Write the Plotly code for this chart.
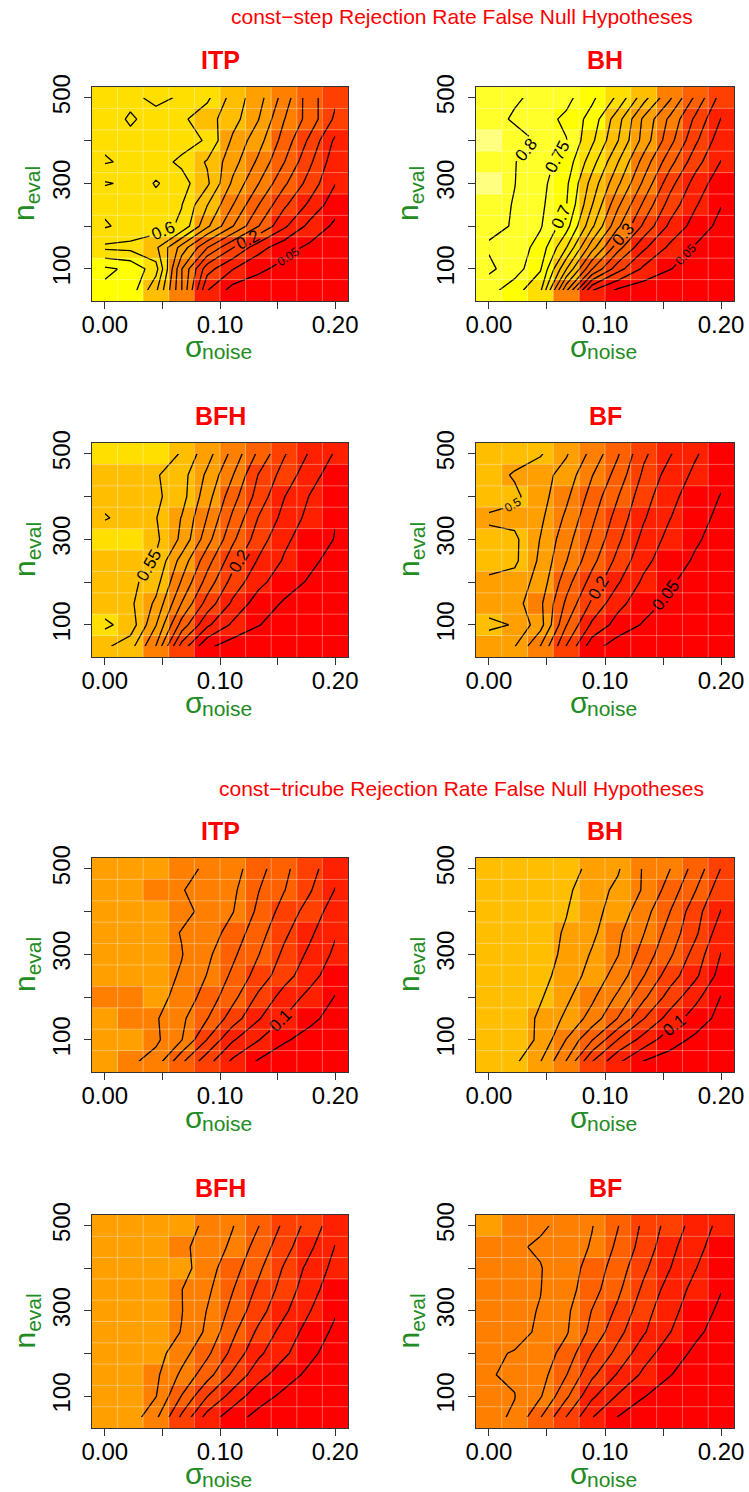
import plotly.graph_objects as go

# ---------------- data ----------------
sigma_noise = [0.0, 0.0222, 0.0444, 0.0667, 0.0889, 0.1111, 0.1333, 0.1556, 0.1778, 0.2]
n_eval = [50, 100, 150, 200, 250, 300, 350, 400, 450, 500]

x_tickvals = [0.0, 0.10, 0.20]
x_ticktext = ["0.00", "0.10", "0.20"]
x_minorvals = [0.05, 0.15]
y_tickvals = [100, 300, 500]
y_ticktext = ["100", "300", "500"]
y_minorvals = [200, 400]

# rows: n_eval 50 -> 500 ; columns: sigma_noise 0 -> 0.2
step_ITP = [
    [0.69, 0.68, 0.56, 0.352, 0.102, 0.03, 0.02, 0.01, 0.005, 0.0],
    [0.71, 0.69, 0.62, 0.352, 0.17, 0.102, 0.06, 0.035, 0.02, 0.01],
    [0.59, 0.585, 0.56, 0.43, 0.302, 0.202, 0.12, 0.07, 0.04, 0.02],
    [0.655, 0.635, 0.625, 0.59, 0.46, 0.352, 0.252, 0.16, 0.085, 0.04],
    [0.64, 0.64, 0.63, 0.602, 0.502, 0.402, 0.302, 0.21, 0.14, 0.07],
    [0.595, 0.61, 0.655, 0.62, 0.56, 0.44, 0.352, 0.26, 0.18, 0.102],
    [0.655, 0.64, 0.62, 0.59, 0.545, 0.47, 0.39, 0.302, 0.21, 0.12],
    [0.64, 0.64, 0.64, 0.62, 0.595, 0.49, 0.42, 0.33, 0.24, 0.14],
    [0.63, 0.655, 0.635, 0.61, 0.57, 0.52, 0.452, 0.352, 0.28, 0.19],
    [0.63, 0.64, 0.66, 0.645, 0.61, 0.53, 0.47, 0.38, 0.27, 0.21],
]
step_BH = [
    [0.77, 0.72, 0.66, 0.36, 0.102, 0.04, 0.02, 0.01, 0.005, 0.0],
    [0.81, 0.775, 0.705, 0.502, 0.302, 0.17, 0.09, 0.052, 0.03, 0.01],
    [0.795, 0.78, 0.73, 0.602, 0.42, 0.27, 0.16, 0.09, 0.045, 0.02],
    [0.81, 0.797, 0.755, 0.67, 0.51, 0.36, 0.24, 0.14, 0.08, 0.035],
    [0.82, 0.797, 0.76, 0.702, 0.552, 0.41, 0.29, 0.18, 0.105, 0.052],
    [0.84, 0.801, 0.765, 0.71, 0.58, 0.46, 0.34, 0.22, 0.13, 0.07],
    [0.82, 0.802, 0.77, 0.73, 0.62, 0.502, 0.38, 0.27, 0.17, 0.098],
    [0.84, 0.815, 0.795, 0.752, 0.66, 0.552, 0.43, 0.32, 0.21, 0.12],
    [0.815, 0.795, 0.77, 0.74, 0.68, 0.57, 0.44, 0.34, 0.24, 0.148],
    [0.82, 0.805, 0.79, 0.765, 0.71, 0.64, 0.52, 0.41, 0.29, 0.18],
]
step_BFH = [
    [0.56, 0.52, 0.398, 0.18, 0.06, 0.025, 0.015, 0.01, 0.005, 0.0],
    [0.61, 0.58, 0.452, 0.28, 0.16, 0.09, 0.052, 0.03, 0.02, 0.01],
    [0.575, 0.56, 0.49, 0.348, 0.23, 0.14, 0.075, 0.045, 0.03, 0.015],
    [0.57, 0.565, 0.52, 0.395, 0.28, 0.18, 0.115, 0.07, 0.045, 0.025],
    [0.58, 0.58, 0.545, 0.43, 0.32, 0.22, 0.145, 0.095, 0.06, 0.035],
    [0.59, 0.595, 0.56, 0.49, 0.37, 0.26, 0.175, 0.11, 0.075, 0.048],
    [0.545, 0.57, 0.552, 0.498, 0.398, 0.29, 0.198, 0.135, 0.085, 0.052],
    [0.57, 0.57, 0.56, 0.52, 0.42, 0.32, 0.23, 0.152, 0.098, 0.06],
    [0.57, 0.565, 0.555, 0.52, 0.44, 0.352, 0.248, 0.18, 0.12, 0.075],
    [0.595, 0.595, 0.588, 0.545, 0.47, 0.385, 0.29, 0.205, 0.145, 0.095],
]
step_BF = [
    [0.47, 0.452, 0.348, 0.198, 0.07, 0.025, 0.015, 0.01, 0.005, 0.0],
    [0.51, 0.497, 0.42, 0.252, 0.14, 0.08, 0.045, 0.025, 0.015, 0.01],
    [0.48, 0.47, 0.41, 0.29, 0.19, 0.115, 0.07, 0.04, 0.025, 0.01],
    [0.49, 0.48, 0.43, 0.32, 0.23, 0.155, 0.09, 0.055, 0.035, 0.02],
    [0.52, 0.51, 0.44, 0.352, 0.265, 0.185, 0.115, 0.07, 0.045, 0.025],
    [0.52, 0.51, 0.448, 0.37, 0.29, 0.21, 0.135, 0.085, 0.055, 0.035],
    [0.49, 0.485, 0.46, 0.39, 0.31, 0.23, 0.155, 0.102, 0.065, 0.04],
    [0.53, 0.51, 0.47, 0.41, 0.33, 0.252, 0.17, 0.115, 0.075, 0.048],
    [0.52, 0.495, 0.47, 0.43, 0.352, 0.28, 0.19, 0.13, 0.09, 0.06],
    [0.53, 0.52, 0.505, 0.455, 0.385, 0.305, 0.21, 0.155, 0.105, 0.07],
]
tri_ITP = [
    [0.42, 0.41, 0.38, 0.26, 0.17, 0.09, 0.045, 0.025, 0.015, 0.01],
    [0.42, 0.42, 0.41, 0.352, 0.248, 0.155, 0.102, 0.055, 0.035, 0.02],
    [0.42, 0.41, 0.405, 0.36, 0.302, 0.225, 0.155, 0.098, 0.06, 0.035],
    [0.41, 0.41, 0.42, 0.38, 0.33, 0.265, 0.19, 0.13, 0.085, 0.048],
    [0.43, 0.43, 0.42, 0.395, 0.348, 0.29, 0.23, 0.17, 0.12, 0.07],
    [0.43, 0.43, 0.42, 0.402, 0.36, 0.31, 0.252, 0.19, 0.14, 0.09],
    [0.43, 0.43, 0.42, 0.398, 0.375, 0.33, 0.27, 0.21, 0.16, 0.105],
    [0.43, 0.43, 0.42, 0.41, 0.39, 0.352, 0.29, 0.23, 0.18, 0.125],
    [0.425, 0.425, 0.41, 0.402, 0.385, 0.36, 0.302, 0.252, 0.205, 0.148],
    [0.43, 0.43, 0.425, 0.41, 0.395, 0.37, 0.32, 0.26, 0.22, 0.165],
]
tri_BH = [
    [0.54, 0.51, 0.452, 0.348, 0.202, 0.11, 0.048, 0.03, 0.02, 0.01],
    [0.545, 0.53, 0.49, 0.398, 0.302, 0.198, 0.13, 0.07, 0.04, 0.02],
    [0.54, 0.535, 0.49, 0.44, 0.38, 0.298, 0.202, 0.13, 0.075, 0.035],
    [0.545, 0.54, 0.505, 0.46, 0.41, 0.34, 0.26, 0.18, 0.115, 0.048],
    [0.54, 0.545, 0.515, 0.48, 0.43, 0.38, 0.302, 0.225, 0.16, 0.08],
    [0.545, 0.54, 0.52, 0.49, 0.445, 0.402, 0.33, 0.26, 0.18, 0.098],
    [0.54, 0.54, 0.52, 0.495, 0.46, 0.41, 0.352, 0.28, 0.21, 0.12],
    [0.545, 0.54, 0.53, 0.502, 0.465, 0.43, 0.37, 0.302, 0.22, 0.148],
    [0.54, 0.545, 0.53, 0.51, 0.47, 0.44, 0.395, 0.33, 0.252, 0.17],
    [0.545, 0.54, 0.53, 0.515, 0.49, 0.455, 0.395, 0.352, 0.28, 0.198],
]
tri_BFH = [
    [0.44, 0.43, 0.36, 0.24, 0.13, 0.07, 0.035, 0.02, 0.01, 0.005],
    [0.44, 0.44, 0.402, 0.298, 0.202, 0.13, 0.07, 0.04, 0.025, 0.015],
    [0.44, 0.445, 0.41, 0.34, 0.27, 0.19, 0.12, 0.07, 0.04, 0.025],
    [0.445, 0.44, 0.42, 0.37, 0.31, 0.235, 0.16, 0.11, 0.06, 0.03],
    [0.44, 0.44, 0.43, 0.398, 0.34, 0.26, 0.19, 0.13, 0.08, 0.04],
    [0.44, 0.445, 0.43, 0.402, 0.348, 0.285, 0.22, 0.16, 0.102, 0.055],
    [0.445, 0.44, 0.43, 0.401, 0.36, 0.302, 0.24, 0.18, 0.12, 0.07],
    [0.44, 0.44, 0.43, 0.42, 0.37, 0.32, 0.26, 0.195, 0.135, 0.085],
    [0.44, 0.445, 0.43, 0.41, 0.38, 0.34, 0.28, 0.22, 0.16, 0.098],
    [0.445, 0.44, 0.435, 0.42, 0.39, 0.352, 0.302, 0.24, 0.18, 0.12],
]
tri_BF = [
    [0.41, 0.395, 0.302, 0.198, 0.102, 0.048, 0.025, 0.015, 0.01, 0.005],
    [0.41, 0.401, 0.355, 0.26, 0.16, 0.095, 0.052, 0.03, 0.02, 0.01],
    [0.402, 0.395, 0.37, 0.302, 0.21, 0.145, 0.09, 0.052, 0.03, 0.015],
    [0.405, 0.398, 0.38, 0.33, 0.248, 0.185, 0.12, 0.075, 0.04, 0.02],
    [0.41, 0.41, 0.395, 0.355, 0.285, 0.215, 0.155, 0.102, 0.06, 0.03],
    [0.41, 0.41, 0.398, 0.36, 0.298, 0.24, 0.17, 0.115, 0.075, 0.04],
    [0.41, 0.41, 0.401, 0.37, 0.32, 0.26, 0.19, 0.13, 0.085, 0.052],
    [0.41, 0.41, 0.402, 0.375, 0.33, 0.275, 0.21, 0.152, 0.102, 0.06],
    [0.41, 0.405, 0.395, 0.38, 0.345, 0.29, 0.23, 0.165, 0.115, 0.075],
    [0.42, 0.41, 0.405, 0.39, 0.352, 0.302, 0.24, 0.18, 0.13, 0.085],
]

main_titles = ["const\u2212step Rejection Rate False Null Hypotheses",
               "const\u2212tricube Rejection Rate False Null Hypotheses"]

# R heat.colors(12)
HEAT = ["#FF0000", "#FF2000", "#FF4000", "#FF6000", "#FF8000", "#FF9F00",
        "#FFBF00", "#FFDF00", "#FFFF00", "#FFFF2A", "#FFFF80", "#FFFFD5"]

# ---------------- layout constants ----------------
W, H = 749, 1492
FONT = "Liberation Sans, Arial, Helvetica, sans-serif"
GREEN = "#228B22"
AXCOL = "#333333"

# (title, data, labelled levels -> label font size, pixel box x0, x1, y0, y1)
panels = [
    ("ITP", step_ITP, {0.6: 17, 0.2: 17, 0.05: 12}, (92, 348, 87, 301)),
    ("BH", step_BH, {0.8: 17, 0.75: 17, 0.7: 17, 0.3: 17, 0.05: 12}, (476, 734, 87, 301)),
    ("BFH", step_BFH, {0.55: 17, 0.2: 17, 0.05: 17}, (92, 348, 443, 657)),
    ("BF", step_BF, {0.5: 12, 0.2: 17, 0.05: 17}, (476, 734, 443, 657)),
    ("ITP", tri_ITP, {0.1: 17}, (92, 348, 858, 1072)),
    ("BH", tri_BH, {0.1: 17}, (476, 734, 858, 1072)),
    ("BFH", tri_BFH, {}, (92, 348, 1215, 1428)),
    ("BF", tri_BF, {}, (476, 734, 1215, 1428)),
]

colorscale = []
for i, c in enumerate(HEAT):
    colorscale.append([i / len(HEAT), c])
    colorscale.append([(i + 1) / len(HEAT), c])

dx = sigma_noise[1] - sigma_noise[0]
dy = n_eval[1] - n_eval[0]
xr = [sigma_noise[0] - dx / 2, sigma_noise[-1] + dx / 2]
yr = [n_eval[0] - dy / 2, n_eval[-1] + dy / 2]

fig = go.Figure()
layout = dict(width=W, height=H, margin=dict(l=0, r=0, t=0, b=0), autosize=False,
              paper_bgcolor="white", plot_bgcolor="white", showlegend=False,
              font=dict(family=FONT, color="black"))
shapes, annotations = [], []


def px(x):
    return x / W


def py(y):
    return 1 - y / H


def ann(text, x, y, size, color, xanchor="center", yanchor="middle", angle=0):
    return dict(text=text, x=px(x), y=py(y), xref="paper", yref="paper",
                showarrow=False, xanchor=xanchor, yanchor=yanchor, textangle=angle,
                borderpad=0, font=dict(size=size, color=color, family=FONT))


for i, (name, z, labs, (x0, x1, y0, y1)) in enumerate(panels, start=1):
    xref = "x" if i == 1 else f"x{i}"
    yref = "y" if i == 1 else f"y{i}"
    xa = "xaxis" if i == 1 else f"xaxis{i}"
    ya = "yaxis" if i == 1 else f"yaxis{i}"

    fig.add_trace(go.Heatmap(z=z, x=sigma_noise, y=n_eval, colorscale=colorscale,
                             zmin=0, zmax=1, showscale=False, hoverinfo="skip",
                             xaxis=xref, yaxis=yref))
    zmax = max(max(r) for r in z)
    k = 1
    while round(0.05 * k, 2) < zmax:
        lev = round(0.05 * k, 2)
        fig.add_trace(go.Contour(
            z=z, x=sigma_noise, y=n_eval, autocontour=False,
            contours=dict(start=lev, end=lev, size=0.05, coloring="none",
                          showlabels=lev in labs, labelformat=".2~g",
                          labelfont=dict(size=labs.get(lev, 17), color="black", family=FONT)),
            line=dict(color="black", width=1.3, smoothing=0),
            showscale=False, hoverinfo="skip", xaxis=xref, yaxis=yref))
        k += 1

    common = dict(ticks="outside", ticklen=7, tickwidth=1, tickcolor=AXCOL,
                  showline=True, mirror=True, linecolor=AXCOL, linewidth=1,
                  showgrid=False, zeroline=False, automargin=False,
                  tickfont=dict(size=24, color="black", family=FONT))
    layout[xa] = dict(domain=[px(x0), px(x1)], anchor=yref, range=xr,
                      tickmode="array", tickvals=x_tickvals, ticktext=x_ticktext,
                      minor=dict(tickmode="array", tickvals=x_minorvals, ticks="outside",
                                 ticklen=7, tickwidth=1, tickcolor=AXCOL, showgrid=False),
                      ticklabelstandoff=-5, **common)
    layout[ya] = dict(domain=[py(y1), py(y0)], anchor=xref, range=yr,
                      tickmode="array", tickvals=y_tickvals, ticktext=y_ticktext,
                      minor=dict(tickmode="array", tickvals=y_minorvals, ticks="outside",
                                 ticklen=7, tickwidth=1, tickcolor=AXCOL, showgrid=False),
                      tickangle=-90, ticklabelstandoff=4, **common)

    # faint cell borders
    for a, b in zip(sigma_noise[:-1], sigma_noise[1:]):
        xm = (a + b) / 2
        shapes.append(dict(type="line", xref=xref, yref=yref, x0=xm, x1=xm, y0=yr[0], y1=yr[1],
                           line=dict(color="rgba(255,255,255,0.35)", width=1), layer="above"))
    for a, b in zip(n_eval[:-1], n_eval[1:]):
        ym = (a + b) / 2
        shapes.append(dict(type="line", xref=xref, yref=yref, x0=xr[0], x1=xr[1], y0=ym, y1=ym,
                           line=dict(color="rgba(255,255,255,0.35)", width=1), layer="above"))

    cx = (x0 + x1) / 2
    cy = (y0 + y1) / 2
    annotations.append(ann(f"<b>{name}</b>", cx, y0 - 27, 25, "#FF0000"))
    # x axis title: sigma with subscript "noise"
    annotations.append(ann("\u03c3", cx - 15, y1 + 45, 30, GREEN, xanchor="right"))
    annotations.append(ann("noise", cx - 19, y1 + 51, 21, GREEN, xanchor="left"))
    # y axis title: n with subscript "eval"
    annotations.append(ann("n<sub>eval</sub>", x0 - 66, cy, 30, GREEN, angle=-90))

for t, yy in zip(main_titles, [16, 788]):
    annotations.append(ann(t, 462, yy, 21, "#FF0000"))

layout["shapes"] = shapes
layout["annotations"] = annotations
fig.update_layout(**layout)
fig.write_html("out.html")
